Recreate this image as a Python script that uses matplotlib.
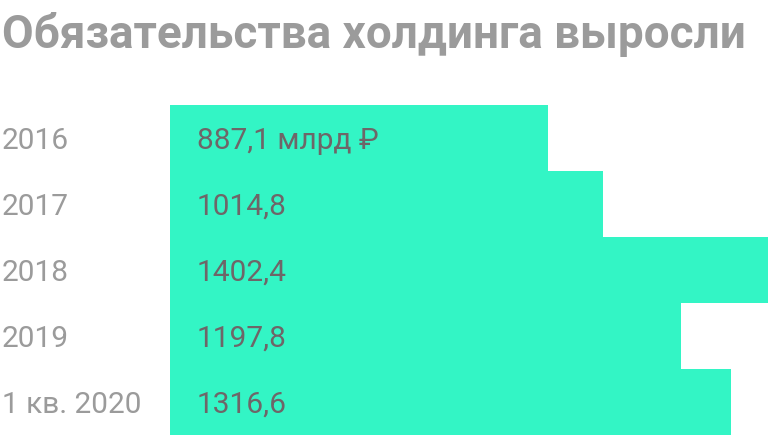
import matplotlib.pyplot as plt

categories = ['2016', '2017', '2018', '2019', '1 кв. 2020']
values = [887.1, 1014.8, 1402.4, 1197.8, 1316.6]
value_labels = ['887,1 млрд ₽', '1014,8', '1402,4', '1197,8', '1316,6']

plt.rcParams['font.family'] = ['Roboto', 'DejaVu Sans']

fig = plt.figure(figsize=(7.68, 4.37), dpi=100)
fig.text(2 / 768, 1 - 48 / 437, 'Обязательства холдинга выросли', fontsize=33,
         fontweight='bold', color='#9b9b9b', ha='left', va='baseline')

ax = fig.add_axes([170 / 768, 2 / 437, 598 / 768, 330 / 437])
pos = list(range(len(categories)))
ax.barh(pos, values, height=1.0, color='#33f5c5')
ax.set_xlim(0, 1402.4)
ax.set_ylim(len(categories) - 0.5, -0.5)
ax.axis('off')

for p, cat, lab in zip(pos, categories, value_labels):
    ax.text(-168 / 598 * 1402.4, p, cat, fontsize=21.5, color='#9b9b9b',
            ha='left', va='center_baseline')
    ax.text(27 / 598 * 1402.4, p, lab, fontsize=21.5, color='#6e6668',
            ha='left', va='center_baseline')

fig.savefig('out.png', dpi=100)
